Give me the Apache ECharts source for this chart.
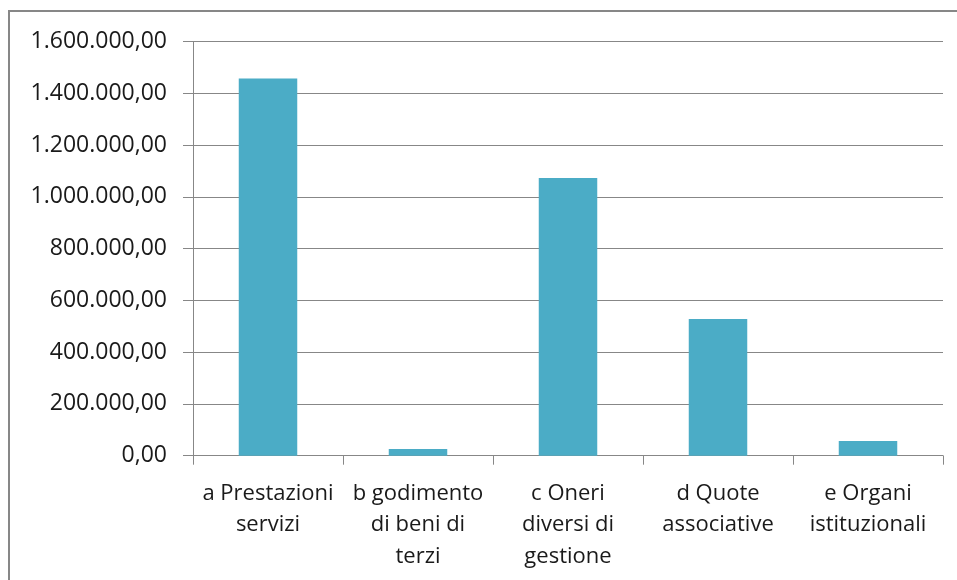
<!DOCTYPE html>
<html><head><meta charset="utf-8">
<script src="https://cdn.jsdelivr.net/npm/echarts@6/dist/echarts.min.js"></script>
<style>html,body{margin:0;padding:0;background:#fff}#c{width:957px;height:580px}</style>
</head><body><div id="c"></div>
<script>
const categories = ["a Prestazioni\nservizi", "b godimento\ndi beni di\nterzi", "c Oneri\ndiversi di\ngestione", "d Quote\nassociative", "e Organi\nistituzionali"];
const values = [1458000, 26000, 1073000, 528000, 57000];
const yTicks = [0, 200000, 400000, 600000, 800000, 1000000, 1200000, 1400000, 1600000];

function fmt(v){
  const s = Math.round(v).toString().replace(/\B(?=(\d{3})+(?!\d))/g, ".");
  return s + ",00";
}
const chart = echarts.init(document.getElementById('c'), null, {renderer:'canvas'});
const font = '"Open Sans", sans-serif';
chart.setOption({
  animation:false,
  graphic:[{type:'rect', shape:{x:9,y:11,width:1000,height:700}, style:{fill:'none', stroke:'#878787', lineWidth:2}}],
  grid:{left:193, top:41.7, right:14, bottom:124.3, containLabel:false},
  xAxis:{type:'category', data:categories,
    axisLine:{lineStyle:{color:'#878787', width:1}},
    axisTick:{show:true, alignWithLabel:false, length:9, lineStyle:{color:'#878787'}},
    axisLabel:{color:'#1a1a1a', fontSize:22, fontFamily:font, lineHeight:31.5, margin:22, interval:0}
  },
  yAxis:{type:'value', min:0, max:1600000, interval:200000,
    axisLine:{show:true, lineStyle:{color:'#878787'}},
    axisTick:{show:true, length:10, lineStyle:{color:'#878787'}},
    splitLine:{lineStyle:{color:'#878787', width:1}},
    axisLabel:{color:'#1a1a1a', fontSize:23, fontFamily:font, margin:26, formatter:function(v){return fmt(v);}}
  },
  series:[{type:'bar', data:values, barWidth:'39%', itemStyle:{color:'#4BACC6'}}]
});
</script></body></html>
